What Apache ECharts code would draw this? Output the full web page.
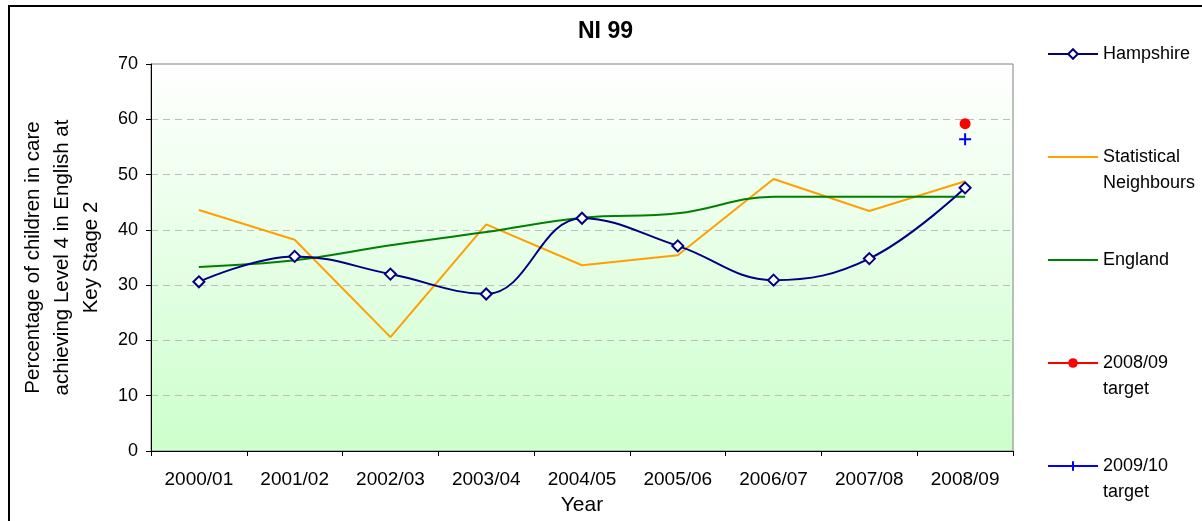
<!DOCTYPE html>
<html>
<head>
<meta charset="utf-8">
<script src="https://cdn.jsdelivr.net/npm/echarts@6/dist/echarts.min.js"></script>
<style>
html,body{margin:0;padding:0;background:#fff;}
#chart{width:1202px;height:521px;}
</style>
</head>
<body>
<div id="chart"></div>
<script>
var categories = ['2000/01','2001/02','2002/03','2003/04','2004/05','2005/06','2006/07','2007/08','2008/09'];
var hampshire = [30.6, 35.2, 32.0, 28.4, 42.1, 37.1, 30.9, 34.8, 47.6];
var statNeighbours = [43.6, 38.2, 20.6, 41.0, 33.6, 35.4, 49.2, 43.4, 48.8];
var england = [33.3, 34.5, 37.2, 39.6, 42.2, 43.0, 46.0, 46.0, 46.0];
var target0809 = [null, null, null, null, null, null, null, null, 59.2];
var target0910 = [null, null, null, null, null, null, null, null, 56.4];
var yTicks = {min: 0, max: 70, interval: 10};

var FONT = "'Liberation Sans', Arial, sans-serif";
var chart = echarts.init(document.getElementById('chart'), null, {renderer: 'canvas'});
var L = 26;
chart.setOption({
  animation: false,
  backgroundColor: '#ffffff',
  textStyle: {fontFamily: FONT, color: '#000'},
  title: {
    text: 'NI 99',
    left: 578, top: 20, padding: 0,
    textStyle: {fontFamily: FONT, fontSize: 23, fontWeight: 'bold', color: '#000'}
  },
  graphic: [{
    type: 'rect', silent: true, z: -1,
    shape: {x: 9, y: 6, width: 1300, height: 700},
    style: {fill: null, stroke: '#000', lineWidth: 2}
  }],
  legend: {
    orient: 'vertical',
    left: 1047, top: 54 - 1.5 * L,
    padding: 0,
    itemWidth: 50, itemHeight: 12,
    itemGap: 103 - 3 * L,
    selectedMode: false,
    textStyle: {fontFamily: FONT, fontSize: 18, color: '#000', lineHeight: L},
    formatter: function (name) {
      return name.indexOf('\n') >= 0 ? ' \n' + name : ' \n' + name + '\n ';
    },
    data: [
      {name: 'Hampshire'},
      {name: 'Statistical\nNeighbours', itemStyle: {opacity: 0}},
      {name: 'England', itemStyle: {opacity: 0}},
      {name: '2008/09\ntarget'},
      {name: '2009/10\ntarget'}
    ]
  },
  grid: {
    left: 151, right: 1202 - 1013, top: 64, bottom: 521 - 451,
    show: true,
    borderColor: '#808080', borderWidth: 1,
    backgroundColor: {
      type: 'linear', x: 0, y: 0, x2: 0, y2: 1,
      colorStops: [{offset: 0, color: '#ffffff'}, {offset: 1, color: '#ccffcc'}]
    }
  },
  xAxis: {
    type: 'category',
    data: categories,
    boundaryGap: true,
    name: 'Year',
    nameLocation: 'middle',
    nameGap: 44,
    nameTextStyle: {fontFamily: FONT, fontSize: 21, color: '#000'},
    axisLine: {lineStyle: {color: '#000', width: 1}},
    axisTick: {show: true, length: 5, inside: false, interval: 0, lineStyle: {color: '#000'}},
    axisLabel: {fontFamily: FONT, fontSize: 19, color: '#000', margin: 19, interval: 0}
  },
  yAxis: {
    type: 'value',
    min: yTicks.min, max: yTicks.max, interval: yTicks.interval,
    name: 'Percentage of children in care\nachieving Level 4 in English at\nKey Stage 2',
    nameLocation: 'middle',
    nameGap: 45,
    nameTextStyle: {fontFamily: FONT, fontSize: 20.5, color: '#000', lineHeight: 29, align: 'center'},
    axisLine: {show: true, lineStyle: {color: '#000', width: 1}},
    axisTick: {show: true, length: 5, inside: false, lineStyle: {color: '#000'}},
    axisLabel: {fontFamily: FONT, fontSize: 18, color: '#000', margin: 13},
    splitLine: {show: true, lineStyle: {color: '#bdbdbd', type: [7, 5], width: 1}}
  },
  series: [
    {
      name: 'Hampshire', type: 'line', data: hampshire, smooth: 0.4,
      symbol: 'diamond', symbolSize: 11, showSymbol: true,
      lineStyle: {color: '#000080', width: 2},
      itemStyle: {color: '#ffffff', borderColor: '#000080', borderWidth: 2},
      z: 5
    },
    {
      name: 'Statistical\nNeighbours', type: 'line', data: statNeighbours,
      symbol: 'none', showSymbol: false,
      lineStyle: {color: '#FFA000', width: 2},
      itemStyle: {color: '#FFA000'},
      z: 3
    },
    {
      name: 'England', type: 'line', data: england, smooth: 0.4,
      symbol: 'none', showSymbol: false,
      lineStyle: {color: '#008000', width: 2},
      itemStyle: {color: '#008000'},
      z: 4
    },
    {
      name: '2008/09\ntarget', type: 'line', data: target0809,
      symbol: 'circle', symbolSize: 11, showSymbol: true,
      lineStyle: {color: '#ff0000', width: 2},
      itemStyle: {color: '#ff0000'},
      z: 6
    },
    {
      name: '2009/10\ntarget', type: 'line', data: target0910,
      symbol: 'path://M0,6 L12,6 M6,0 L6,12', symbolSize: 12, showSymbol: true,
      lineStyle: {color: '#0000ff', width: 2},
      itemStyle: {color: 'none', borderColor: '#0000ff', borderWidth: 2},
      z: 6
    }
  ]
});
</script>
</body>
</html>
